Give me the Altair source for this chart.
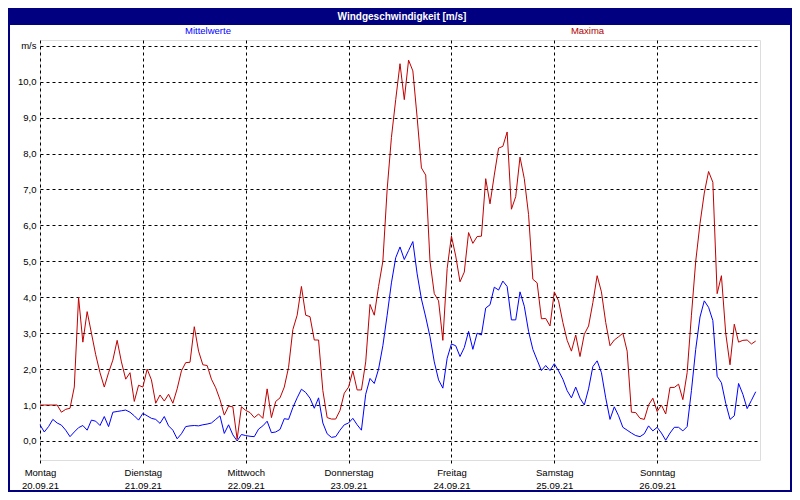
import altair as alt
import pandas as pd

# ---------------- data ----------------
days = ["Montag", "Dienstag", "Mittwoch", "Donnerstag", "Freitag", "Samstag", "Sonntag"]
dates = ["20.09.21", "21.09.21", "22.09.21", "23.09.21", "24.09.21", "25.09.21", "26.09.21"]
series_names = ["Mittelwerte", "Maxima"]
series_colors = ["#0000ff", "#c00000"]
title_text = "Windgeschwindigkeit [m/s]"
y_unit = "m/s"

# hourly mean wind speed (m/s), 20.09.21 00:00 .. 26.09.21 23:00
mittel = [
    0.45, 0.25, 0.4, 0.6, 0.5, 0.44, 0.3, 0.12, 0.25, 0.37, 0.43, 0.3,
    0.58, 0.55, 0.43, 0.68, 0.4, 0.8, 0.82, 0.84, 0.86, 0.8, 0.7, 0.58,
    0.77, 0.7, 0.63, 0.6, 0.49, 0.68, 0.42, 0.3, 0.06, 0.2, 0.4, 0.42,
    0.43, 0.42, 0.45, 0.47, 0.5, 0.6, 0.7, 0.21, 0.45, 0.17, 0.0, 0.18,
    0.15, 0.13, 0.12, 0.33, 0.42, 0.55, 0.23, 0.25, 0.32, 0.62, 0.6, 0.93,
    1.2, 1.44, 1.35, 1.19, 0.91, 1.2, 0.5, 0.2, 0.1, 0.12, 0.3, 0.45,
    0.5, 0.63, 0.45, 0.3, 1.3, 1.74, 1.6, 2.0, 2.65, 3.5, 4.4, 5.1,
    5.4, 5.05, 5.3, 5.55, 4.65, 3.95, 3.45, 2.9, 2.2, 1.7, 1.47, 2.3,
    2.7, 2.65, 2.35, 2.6, 3.05, 2.55, 3.0, 2.95, 3.7, 3.79, 4.28, 4.2,
    4.45, 4.3, 3.37, 3.37, 4.15, 3.75, 3.05, 2.55, 2.25, 1.96, 2.1, 1.96,
    2.15, 1.95, 1.72, 1.4, 1.2, 1.5, 1.19, 1.0, 1.45, 2.07, 2.23, 1.9,
    1.2, 0.6, 0.95, 0.7, 0.38, 0.3, 0.22, 0.15, 0.12, 0.2, 0.42, 0.28,
    0.38, 0.22, 0.02, 0.22, 0.38, 0.38, 0.28, 0.4, 1.4, 2.55, 3.45, 3.9,
    3.72, 3.35, 1.8, 1.62, 1.05, 0.6, 0.7, 1.6, 1.3, 0.9, 1.13, 1.37,
]

# hourly maximum wind speed (m/s)
maxima = [
    1.0, 1.0, 1.0, 1.0, 1.0, 0.8, 0.88, 0.91, 1.5, 4.0, 2.75, 3.6,
    3.0, 2.4, 1.9, 1.5, 1.9, 2.25, 2.8, 2.2, 1.72, 1.9, 1.1, 1.55,
    1.5, 2.0, 1.7, 1.05, 1.28, 1.11, 1.3, 1.05, 1.45, 1.95, 2.18, 2.19,
    3.18, 2.5, 2.12, 2.1, 1.72, 1.48, 1.15, 0.72, 0.97, 0.95, 0.05, 0.95,
    0.85, 0.79, 0.65, 0.75, 0.63, 1.45, 0.65, 1.1, 1.2, 1.5, 2.05, 3.1,
    3.5, 4.3, 3.5, 3.46, 2.81, 2.81, 1.4, 0.65, 0.61, 0.61, 0.85, 1.33,
    1.5, 1.95, 1.42, 1.42, 2.2, 3.8, 3.5, 4.3, 5.0, 7.0, 8.45, 9.5,
    10.5, 9.5, 10.6, 10.3, 9.0, 7.6, 7.4, 5.0, 4.1, 3.9, 2.8, 4.8,
    5.7, 5.15, 4.43, 4.7, 5.8, 5.5, 5.69, 5.7, 7.3, 6.6, 7.4, 8.15,
    8.2, 8.6, 6.45, 6.8, 7.9, 7.3, 6.3, 4.5, 4.4, 3.4, 3.41, 3.2,
    4.15, 3.9, 3.3, 2.8, 2.5, 2.95, 2.35, 2.97, 3.2, 3.85, 4.6, 4.15,
    3.3, 2.65, 2.81, 2.9, 3.0, 2.5, 0.8, 0.79, 0.63, 0.6, 1.0, 1.19,
    0.82, 1.0, 0.75, 1.49, 1.49, 1.58, 1.15, 1.9, 3.5, 5.0, 6.05, 6.9,
    7.5, 7.2, 4.1, 4.6, 3.0, 2.12, 3.25, 2.75, 2.8, 2.81, 2.7, 2.78,
]

n = len(mittel)
df = pd.DataFrame({
    "hour": list(range(n)) * 2,
    "value": mittel + maxima,
    "series": [series_names[0]] * n + [series_names[1]] * len(maxima),
})

# ---------------- layout ----------------
W, H = 720, 420
PAD = 32
FONT = "Liberation Sans"
NAVY = "#000080"

days_js = "[" + ",".join("'%s'" % d for d in days) + "]"
dates_js = "[" + ",".join("'%s'" % d for d in dates) + "]"

x_axis = alt.Axis(
    values=[24 * i for i in range(len(days))],
    grid=True, gridDash=[3, 3], gridColor="black", gridOpacity=1, gridWidth=1,
    domain=False, ticks=True, tickSize=3, tickColor="black", tickWidth=1,
    labelExpr="[%s[round(datum.value/24)], %s[round(datum.value/24)]]" % (days_js, dates_js),
    labelFont=FONT, labelFontSize=9.5, labelColor="black",
    labelPadding=4, labelLineHeight=13, labelAlign="center", labelBaseline="top",
    labelFlush=False, labelOverlap=False, title=None,
)

y_axis = alt.Axis(
    values=list(range(12)),
    grid=True, gridDash=[3, 3], gridColor="black", gridOpacity=1, gridWidth=1,
    domain=False, ticks=False,
    labelExpr="datum.value == 11 ? '%s' : replace(format(datum.value, '.1f'), '.', ',')" % y_unit,
    labelFont=FONT, labelFontSize=9.5, labelColor="black", labelPadding=4,
    title=None,
)

lines = alt.Chart(df).mark_line(strokeWidth=1, interpolate="linear").encode(
    x=alt.X("hour:Q", scale=alt.Scale(domain=[0, 168], nice=False, zero=False), axis=x_axis),
    y=alt.Y("value:Q", scale=alt.Scale(domain=[-0.53, 11.16], nice=False, zero=False), axis=y_axis),
    color=alt.Color("series:N", scale=alt.Scale(domain=series_names, range=series_colors), legend=None),
)

one = pd.DataFrame({"k": [0]})

frame = alt.Chart(one).mark_rect(fillOpacity=0, stroke=NAVY, strokeWidth=2).encode(
    x=alt.value(-PAD + 1), x2=alt.value(W + PAD - 1),
    y=alt.value(-PAD + 1), y2=alt.value(H + PAD - 1),
)

titlebar = alt.Chart(one).mark_rect(color=NAVY).encode(
    x=alt.value(-PAD), x2=alt.value(W + PAD),
    y=alt.value(-PAD), y2=alt.value(-15),
)

title = alt.Chart(one).mark_text(
    text=title_text, color="white", fontWeight="bold", fontSize=10, font=FONT,
    align="center", baseline="middle",
).encode(x=alt.value(W / 2 + 2), y=alt.value(-23.5))

leg1 = alt.Chart(one).mark_text(
    text=series_names[0], color=series_colors[0], fontSize=9.5, font=FONT,
    align="center", baseline="middle",
).encode(x=alt.value(168), y=alt.value(-9.5))

leg2 = alt.Chart(one).mark_text(
    text=series_names[1], color="#b00000", fontSize=9.5, font=FONT,
    align="center", baseline="middle",
).encode(x=alt.value(547.5), y=alt.value(-9.5))

chart = alt.layer(frame, titlebar, title, leg1, leg2, lines).properties(
    width=W, height=H,
    autosize=alt.AutoSizeParams(type="none"),
    padding={"left": PAD, "top": PAD, "right": PAD, "bottom": PAD},
).configure_view(
    stroke="black", strokeWidth=1, fill="white",
).configure(background="white")

chart.save("out.html", embed_options={"renderer": "svg", "actions": False})
